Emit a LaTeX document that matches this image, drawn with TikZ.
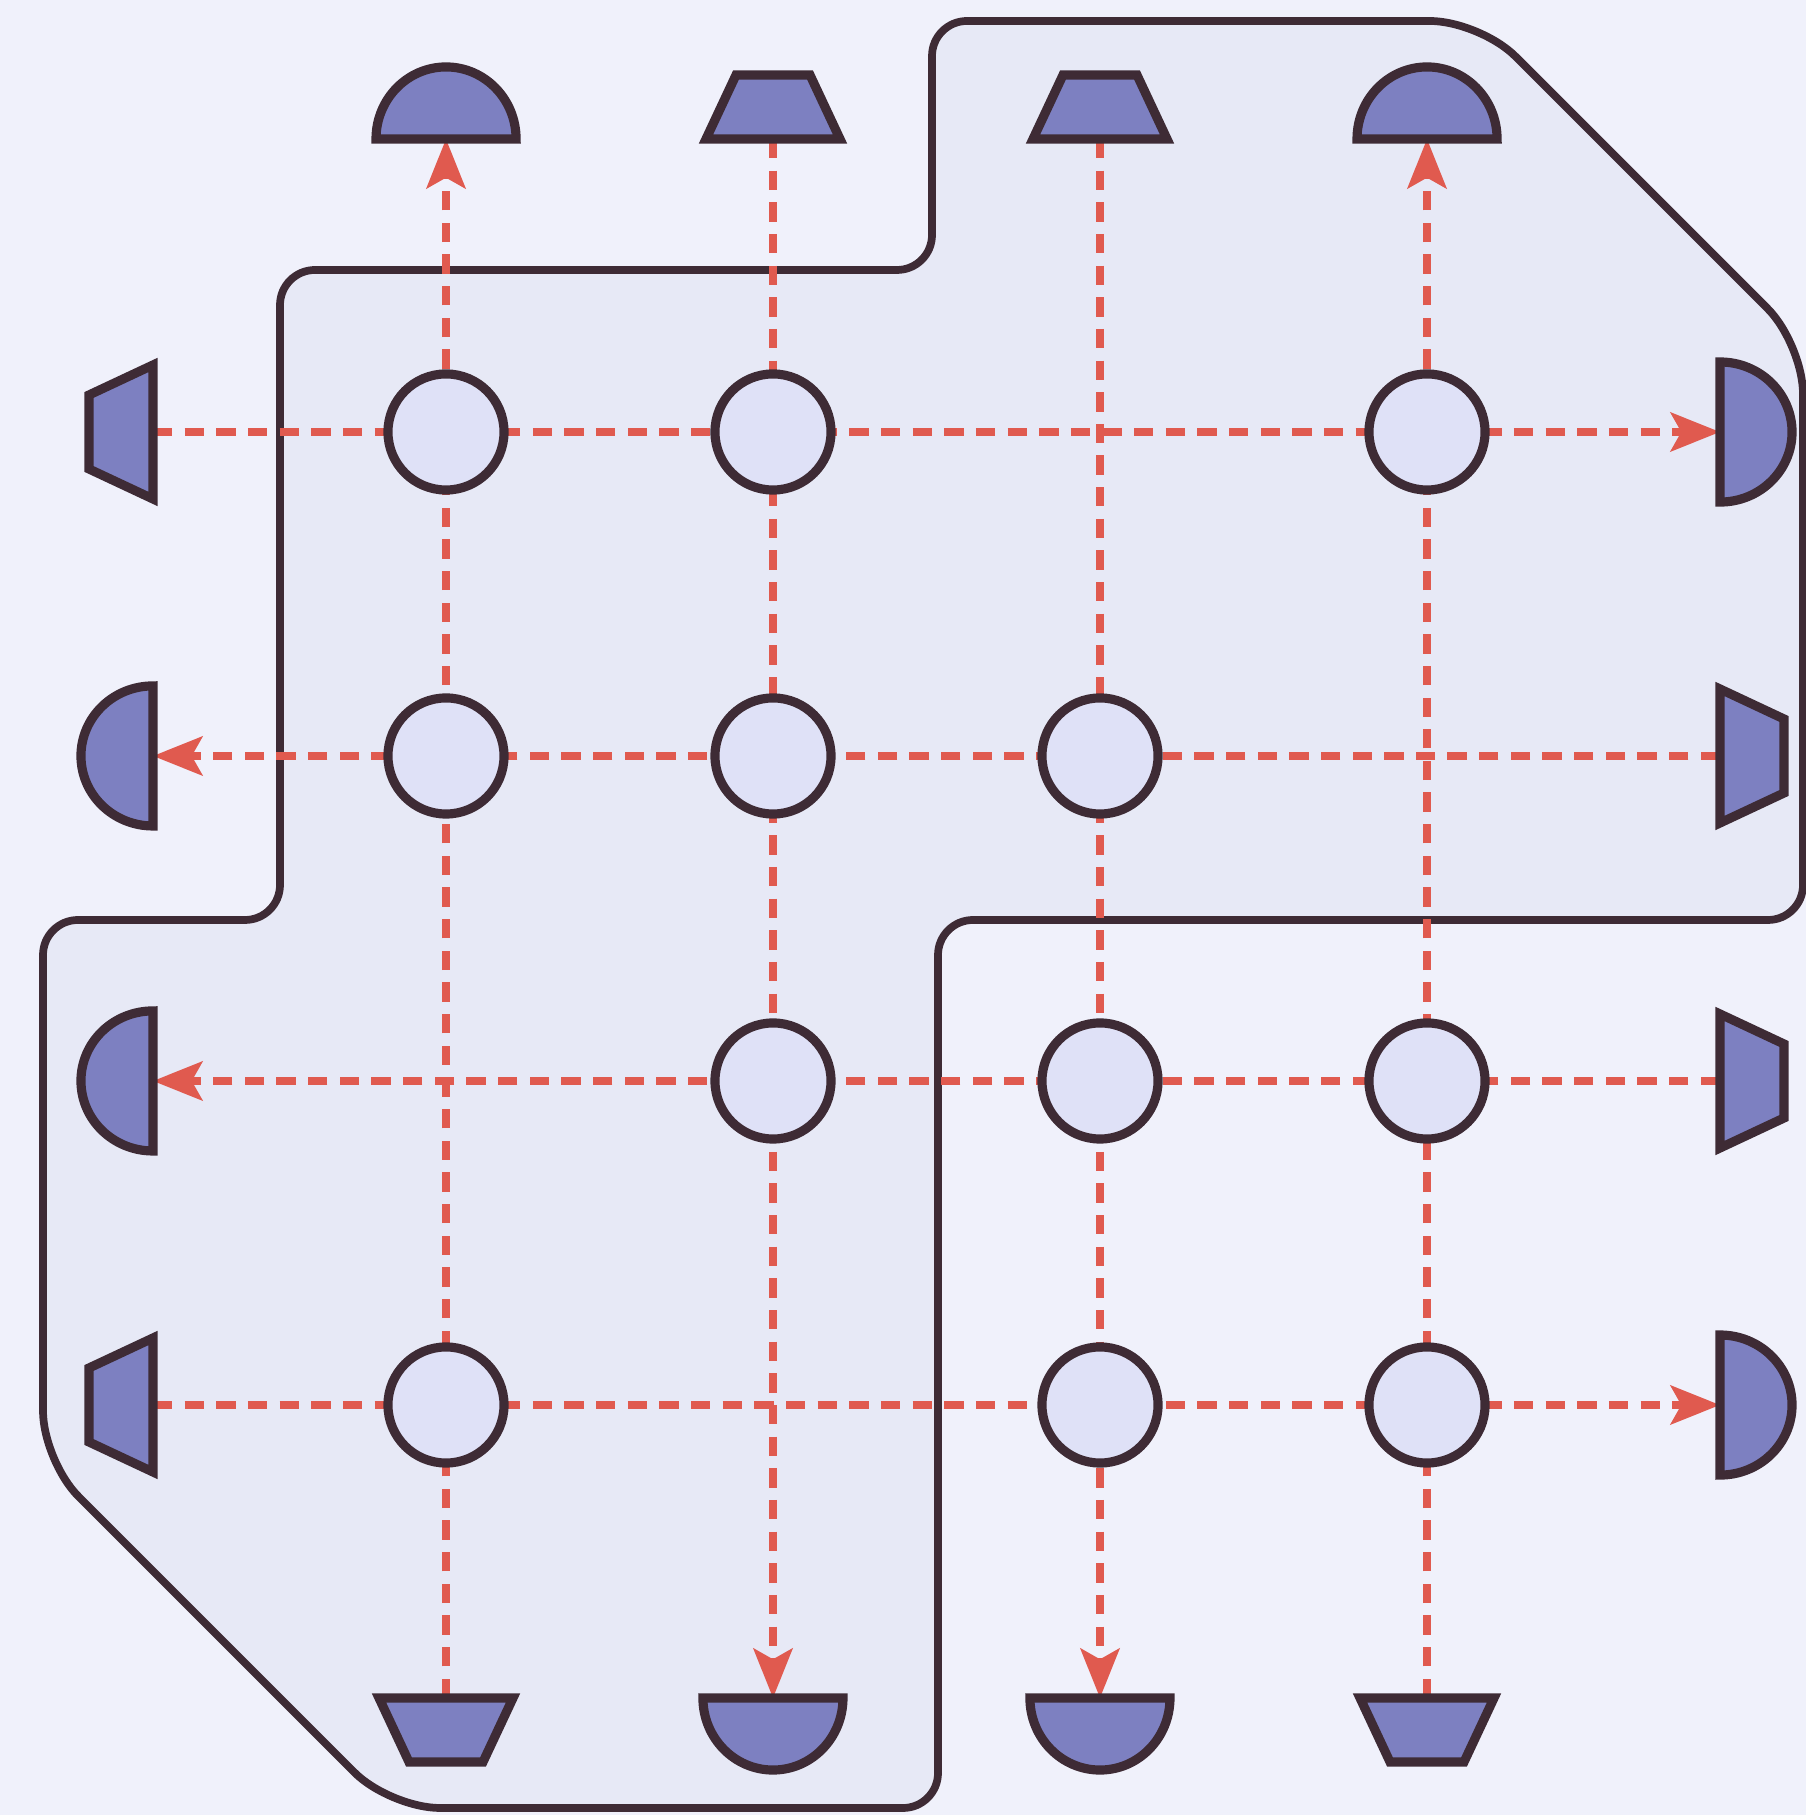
\documentclass[tikz,border=0pt]{standalone}
\usetikzlibrary{arrows.meta}
\definecolor{bgc}{HTML}{F0F1FB}
\definecolor{regc}{HTML}{E7E9F6}
\definecolor{inkc}{HTML}{3E2B35}
\definecolor{emitc}{HTML}{7D80C1}
\definecolor{cellc}{HTML}{DFE1F7}
\definecolor{beamc}{HTML}{E05A4F}
\begin{document}
\begin{tikzpicture}[x=0.01cm,y=0.01cm,
  region/.style={draw=inkc,fill=regc,line width=2.2pt,rounded corners=3.5mm},
  emit/.style={draw=inkc,fill=emitc,line width=2.6pt,line join=miter},
  cell/.style={circle,draw=inkc,fill=cellc,line width=2.6pt,minimum size=1.16cm,inner sep=0pt},
  beam/.style={draw=beamc,line width=2.3pt,dash pattern=on 5.5pt off 3.5pt},
  beamarrow/.style={beam,-{Stealth[length=14pt,width=11pt,inset=3pt]}},
  halfdisk/.pic={\draw[emit] (-70,0) arc[start angle=180,end angle=0,x radius=0.70cm,y radius=0.72cm] -- cycle;},
  trapez/.pic={\draw[emit] (-67,0) -- (-37,64) -- (37,64) -- (67,0) -- cycle;}
]
\fill[bgc] (0,0) rectangle (1806,1815);
\useasboundingbox (0,0) rectangle (1806,1815);
% region
\draw[region] (932,1794) [rounded corners=5mm] -- (1480,1794) -- (1803,1471)
  [rounded corners=3.5mm] -- (1803,895) -- (938,895) -- (938,7)
  [rounded corners=5mm] -- (390,7) -- (43,354)
  [rounded corners=3.5mm] -- (43,895) -- (280,895) -- (280,1545)
  -- (932,1545) -- cycle;
% emitter anchors (flat-edge centres)
\coordinate (T1) at (446,1676); \coordinate (T2) at (773,1676);
\coordinate (T3) at (1100,1676); \coordinate (T4) at (1427,1676);
\coordinate (B1) at (446,117); \coordinate (B2) at (773,117);
\coordinate (B3) at (1100,117); \coordinate (B4) at (1427,117);
\coordinate (L1) at (153,1383); \coordinate (L2) at (153,1059);
\coordinate (L3) at (153,734); \coordinate (L4) at (153,410);
\coordinate (R1) at (1720,1383); \coordinate (R2) at (1720,1059);
\coordinate (R3) at (1720,734); \coordinate (R4) at (1720,410);
% beams
\draw[beamarrow] (L1) -- (R1);
\draw[beamarrow] (R2) -- (L2);
\draw[beamarrow] (R3) -- (L3);
\draw[beamarrow] (L4) -- (R4);
\draw[beamarrow] (B1) -- (T1);
\draw[beamarrow] (T2) -- (B2);
\draw[beamarrow] (T3) -- (B3);
\draw[beamarrow] (B4) -- (T4);
% emitters / detectors
\pic at (T1) {halfdisk}; \pic at (T2) {trapez}; \pic at (T3) {trapez}; \pic at (T4) {halfdisk};
\pic[rotate=90] at (L1) {trapez}; \pic[rotate=90] at (L2) {halfdisk};
\pic[rotate=90] at (L3) {halfdisk}; \pic[rotate=90] at (L4) {trapez};
\pic[rotate=-90] at (R1) {halfdisk}; \pic[rotate=-90] at (R2) {trapez};
\pic[rotate=-90] at (R3) {trapez}; \pic[rotate=-90] at (R4) {halfdisk};
\pic[rotate=180] at (B1) {trapez}; \pic[rotate=180] at (B2) {halfdisk};
\pic[rotate=180] at (B3) {halfdisk}; \pic[rotate=180] at (B4) {trapez};
% cells
\node[cell] (c11) at (446,1383) {};
\node[cell] (c12) at (773,1383) {};
\node[cell] (c14) at (1427,1383) {};
\node[cell] (c21) at (446,1059) {};
\node[cell] (c22) at (773,1059) {};
\node[cell] (c23) at (1100,1059) {};
\node[cell] (c32) at (773,734) {};
\node[cell] (c33) at (1100,734) {};
\node[cell] (c34) at (1427,734) {};
\node[cell] (c41) at (446,410) {};
\node[cell] (c43) at (1100,410) {};
\node[cell] (c44) at (1427,410) {};
\end{tikzpicture}
\end{document}
